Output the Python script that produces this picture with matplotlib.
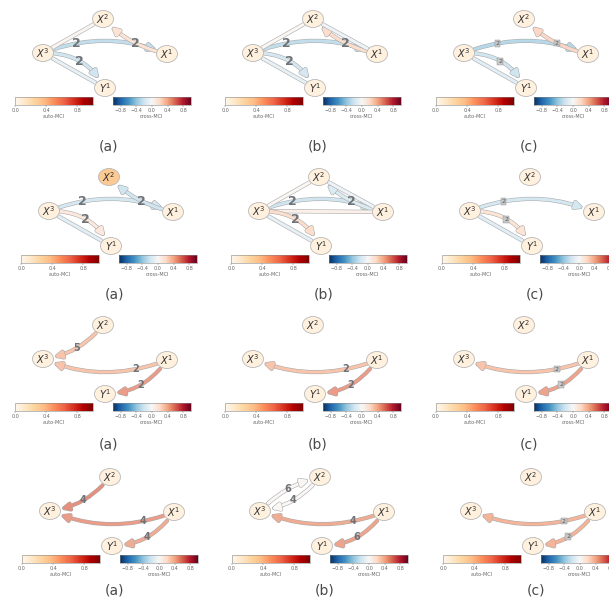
import numpy as np
import matplotlib
matplotlib.use("Agg")
import matplotlib.pyplot as plt
import matplotlib.patheffects as pe
from matplotlib.patches import Ellipse, FancyArrowPatch
from matplotlib.colors import Normalize
from matplotlib.cm import ScalarMappable

# ---- data ----
node_names = ["X1", "X2", "X3", "Y1"]
node_tex = {"X1": r"$X^1$", "X2": r"$X^2$", "X3": r"$X^3$", "Y1": r"$Y^1$"}

captions = ["(a)", "(b)", "(c)"]

# auto-MCI per node [X1, X2, X3, Y1], panels row by row
auto_mci = [
    [0.05, 0.05, 0.05, 0.05], [0.05, 0.05, 0.05, 0.05], [0.05, 0.05, 0.05, 0.05],
    [0.05, 0.30, 0.05, 0.05], [0.05, 0.05, 0.05, 0.05], [0.05, 0.05, 0.05, 0.05],
    [0.05, 0.05, 0.05, 0.05], [0.05, 0.05, 0.05, 0.05], [0.05, 0.05, 0.05, 0.05],
    [0.05, 0.05, 0.05, 0.05], [0.05, 0.05, 0.05, 0.05], [0.05, 0.05, 0.05, 0.05],
]

# links: (source, target, cross-MCI, lag label); no label = contemporaneous
links = [
    # row 1
    [("X3", "X1", -0.30, "2"), ("X1", "X2", 0.20, "2"), ("X3", "X2", 0.04, None),
     ("X3", "Y1", -0.12, None), ("X3", "Y1", -0.25, "2")],
    [("X3", "X1", -0.30, "2"), ("X1", "X2", 0.22, "2"), ("X3", "X2", 0.03, None),
     ("X2", "X1", -0.08, None), ("X3", "Y1", -0.12, None), ("X3", "Y1", -0.22, "2")],
    [("X3", "X1", -0.35, "2"), ("X1", "X2", 0.25, "2"),
     ("X3", "Y1", -0.15, None), ("X3", "Y1", -0.25, "2")],
    # row 2
    [("X3", "X1", -0.22, "2"), ("X1", "X2", -0.25, "2"),
     ("X3", "Y1", -0.15, None), ("X3", "Y1", 0.15, "2")],
    [("X3", "X1", -0.25, "2"), ("X1", "X2", -0.20, "2"), ("X3", "X2", 0.03, None),
     ("X2", "X1", -0.08, None), ("X3", "X1", 0.08, None),
     ("X3", "Y1", -0.12, None), ("X3", "Y1", 0.22, "2")],
    [("X3", "X1", -0.22, "2"), ("X3", "Y1", -0.15, None), ("X3", "Y1", 0.18, "2")],
    # row 3
    [("X2", "X3", 0.35, "5"), ("X1", "X3", 0.35, "2"), ("X1", "Y1", 0.50, "2")],
    [("X1", "X3", 0.35, "2"), ("X1", "Y1", 0.50, "2")],
    [("X1", "X3", 0.35, "2"), ("X1", "Y1", 0.48, "2")],
    # row 4
    [("X2", "X3", 0.55, "4"), ("X1", "X3", 0.50, "4"), ("X1", "Y1", 0.45, "4")],
    [("X2", "X3", 0.03, "4"), ("X3", "X2", 0.03, "6"),
     ("X1", "X3", 0.45, "4"), ("X1", "Y1", 0.48, "6")],
    [("X1", "X3", 0.42, "2"), ("X1", "Y1", 0.42, "2")],
]

auto_ticks = [0.0, 0.4, 0.8]
cross_ticks = [-0.8, -0.4, 0.0, 0.4, 0.8]

# ---- layout (pixels) ----
W, H = 609, 602
node_pos = {"X3": (43, 53), "X2": (103, 19), "X1": (167, 54), "Y1": (105, 88)}
bend = {("X3", "X1"): -0.2, ("X1", "X3"): -0.2, ("X1", "X2"): -0.15,
        ("X3", "Y1"): -0.3, ("X1", "Y1"): -0.25, ("X2", "X3"): -0.2,
        ("X3", "X2"): -0.15}
label_t = {("X3", "X1"): 0.27, ("X1", "X3"): 0.25, ("X1", "X2"): 0.45}
col_x = [0, 210, 421]
row_y = [0, 158, 306, 458]
row_dx = [0, 6, 0, 7]
cap_y = [146, 295, 445, 590]

cmap_auto = plt.get_cmap("OrRd")
cmap_cross = plt.get_cmap("RdBu_r")
norm_auto = Normalize(0, 1)
norm_cross = Normalize(-1, 1)

fig = plt.figure(figsize=(W / 100, H / 100), dpi=100)


def px_axes(x, y, w, h):
    return fig.add_axes([x / W, 1 - (y + h) / H, w / W, h / H])


def soften(rgba, k=0.78):
    r, g, b, _ = rgba
    return (k * r + 1 - k, k * g + 1 - k, k * b + 1 - k)


def draw_panel(ax, edges, autos, big):
    ax.set_xlim(0, 212)
    ax.set_ylim(100, 0)
    ax.axis("off")
    for src, dst, val, lab in edges:
        a, b = node_pos[src], node_pos[dst]
        rad = bend.get((src, dst), -0.2) if lab else 0.0
        style = "-|>,head_length=0.45,head_width=0.22" if lab else "-"
        col = soften(cmap_cross(norm_cross(val)))
        arr = FancyArrowPatch(a, b, connectionstyle=f"arc3,rad={rad}",
                              arrowstyle=style, mutation_scale=10, lw=2.2,
                              color=col, shrinkA=8, shrinkB=8, zorder=1,
                              clip_on=False)
        arr.set_path_effects([pe.Stroke(linewidth=3.0, foreground="#ababab"),
                              pe.Normal()])
        ax.add_patch(arr)
        if lab:
            # label on quadratic bezier, data y points down
            dx, dy = b[0] - a[0], b[1] - a[1]
            mx, my = (a[0] + b[0]) / 2, (a[1] + b[1]) / 2
            cx, cy = mx - rad * dy, my + rad * dx
            t = label_t.get((src, dst), 0.5)
            px = (1 - t) ** 2 * a[0] + 2 * t * (1 - t) * cx + t ** 2 * b[0]
            py = (1 - t) ** 2 * a[1] + 2 * t * (1 - t) * cy + t ** 2 * b[1]
            if big > 0:
                ax.text(px, py, lab, fontsize=big, fontweight="bold",
                        color="#6f7378", ha="center", va="center", zorder=3)
            else:
                ax.text(px, py, lab, fontsize=4.5, color="#555555",
                        ha="center", va="center", zorder=3,
                        bbox=dict(boxstyle="square,pad=0.15", fc="#c8c8c8",
                                  ec="#909090", lw=0.3))
    for name, v in zip(node_names, autos):
        x, y = node_pos[name]
        ax.add_patch(Ellipse((x, y), 21, 17, fc=cmap_auto(norm_auto(v)),
                             ec="#b8b8b8", lw=0.6, zorder=4, clip_on=False))
        ax.text(x, y, node_tex[name], fontsize=7, color="#303030",
                ha="center", va="center", zorder=5)


def draw_bar(x, y, cmap, norm, ticks, label):
    cax = px_axes(x, y, 78, 8)
    sm = ScalarMappable(norm=norm, cmap=cmap)
    cb = fig.colorbar(sm, cax=cax, orientation="horizontal", ticks=ticks)
    cb.outline.set_linewidth(0.4)
    cb.outline.set_edgecolor("#888888")
    cb.ax.tick_params(labelsize=3.5, length=1.5, width=0.3, pad=1,
                      colors="#666666")
    cb.set_label(label, fontsize=3.5, labelpad=0.5, color="#666666")


for r in range(4):
    for c in range(3):
        k = r * 3 + c
        x0 = col_x[c] + row_dx[r]
        y0 = row_y[r]
        ax = px_axes(x0, y0, 212, 100)
        if c == 2:
            big = 0
        elif r < 2:
            big = 9
        else:
            big = 7
        draw_panel(ax, links[k], auto_mci[k], big)
        draw_bar(x0 + 15, y0 + 97, cmap_auto, norm_auto, auto_ticks, "auto-MCI")
        draw_bar(x0 + 113, y0 + 97, cmap_cross, norm_cross, cross_ticks, "cross-MCI")
        fig.text((x0 + 108) / W, 1 - cap_y[r] / H, captions[c], fontsize=10,
                 color="#4a4a4a", ha="center", va="center")

fig.savefig("out.png", dpi=100)
